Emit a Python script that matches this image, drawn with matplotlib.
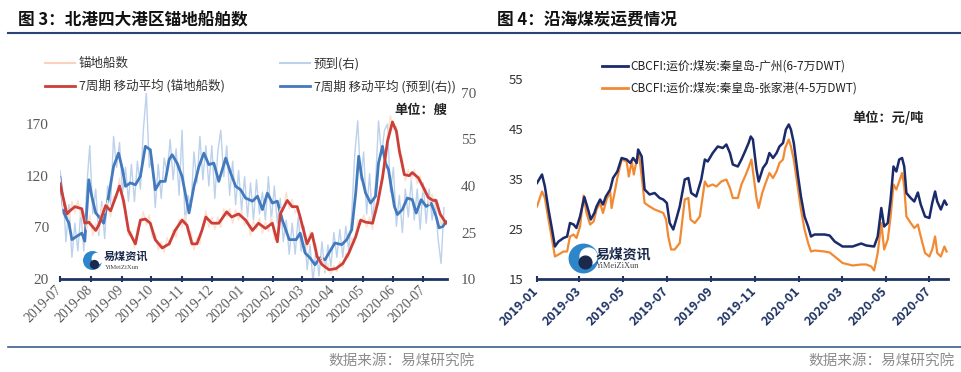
import numpy as np
import pandas as pd
import matplotlib
matplotlib.use('Agg')
import matplotlib.pyplot as plt
import matplotlib.dates as mdates
from matplotlib.lines import Line2D

plt.rcParams['font.family'] = ['Noto Sans CJK SC', 'DejaVu Sans']

# ---------------- 图3 data (2019-07 .. 2020-07) ----------------
# daily series every 3 days
raw_start = '2019-07-01'
anchor_raw = [118, 88, 92, 78, 95, 84, 96, 80, 84, 68,
              82, 62, 74, 66, 90, 84, 96, 80, 100, 98,
              118, 92, 90, 62, 66, 50, 70, 72, 85, 72,
              82, 60, 64, 48, 56, 46, 60, 52, 68, 60,
              78, 70, 82, 64, 66, 48, 60, 54, 73, 86,
              70, 80, 68, 80, 70, 88, 80, 88, 74, 87,
              77, 86, 72, 78, 62, 76, 68, 79, 64, 75,
              66, 80, 58, 64, 88, 86, 104, 88, 97, 84,
              90, 70, 66, 50, 66, 56, 54, 36, 42, 28,
              35, 25, 33, 27, 37, 31, 45, 40, 60, 55,
              77, 72, 82, 70, 80, 68, 93, 92, 118, 125,
              160, 178, 165, 168, 140, 138, 115, 126, 116, 126,
              112, 120, 104, 108, 92, 102, 90, 92, 72, 80]
arrive_raw = [45, 38, 22, 34, 17, 28, 19, 32, 19, 40,
              53, 31, 39, 24, 35, 23, 40, 34, 56, 46,
              54, 38, 46, 35, 47, 35, 48, 39, 58, 70,
              46, 49, 33, 47, 36, 49, 44, 55, 42, 52,
              37, 58, 28, 37, 33, 51, 41, 56, 42, 53,
              40, 53, 36, 51, 58, 43, 53, 37, 48, 34,
              45, 32, 43, 30, 41, 29, 42, 31, 38, 29,
              43, 29, 40, 28, 36, 22, 29, 18, 28, 18,
              30, 19, 27, 13, 21, 9, 20, 11, 22, 12,
              21, 14, 25, 17, 26, 17, 27, 19, 31, 50,
              61, 42, 51, 31, 44, 28, 41, 61, 50, 58,
              60, 38, 46, 27, 37, 25, 39, 30, 42, 29,
              39, 26, 41, 28, 39, 29, 36, 23, 15, 33]

anchor_ma_dates = ['2019-07-01', '2019-07-08', '2019-07-11', '2019-07-16', '2019-07-23', '2019-07-26', '2019-07-30',
                   '2019-08-06', '2019-08-09', '2019-08-16', '2019-08-21', '2019-08-26', '2019-08-30',
                   '2019-09-03', '2019-09-08', '2019-09-15', '2019-09-20', '2019-09-25', '2019-09-30',
                   '2019-10-05', '2019-10-12', '2019-10-19', '2019-10-25',
                   '2019-11-01', '2019-11-06', '2019-11-11', '2019-11-16', '2019-11-21', '2019-11-25',
                   '2019-12-01', '2019-12-08', '2019-12-16', '2019-12-21', '2019-12-28',
                   '2020-01-04', '2020-01-11', '2020-01-17', '2020-01-24', '2020-01-31',
                   '2020-02-05', '2020-02-08', '2020-02-15', '2020-02-20', '2020-02-25', '2020-02-28',
                   '2020-03-06', '2020-03-11', '2020-03-16', '2020-03-21', '2020-03-28',
                   '2020-04-04', '2020-04-11', '2020-04-17', '2020-04-24', '2020-04-29',
                   '2020-05-04', '2020-05-11', '2020-05-16', '2020-05-21', '2020-05-26', '2020-05-31',
                   '2020-06-04', '2020-06-07', '2020-06-12', '2020-06-17', '2020-06-20', '2020-06-26',
                   '2020-07-01', '2020-07-06', '2020-07-11', '2020-07-14', '2020-07-18', '2020-07-24']
anchor_ma = [112, 83, 86, 90, 88, 74, 75,
             67, 72, 91, 86, 99, 110,
             96, 67, 54, 77, 78, 74,
             58, 50, 54, 67,
             77, 72, 54, 54, 67, 80,
             74, 74, 85, 80, 83,
             77, 67, 74, 69, 74,
             56, 83, 96, 90, 90, 80,
             54, 64, 42, 34, 29,
             30, 35, 45, 61, 77,
             75, 74, 93, 118, 153, 172,
             163, 144, 121, 120, 123, 118,
             109, 99, 96, 96, 83, 74]

arrive_ma_dates = ['2019-07-01', '2019-07-05', '2019-07-10', '2019-07-13', '2019-07-18', '2019-07-23', '2019-07-26', '2019-07-30',
                   '2019-08-02', '2019-08-06', '2019-08-09', '2019-08-14', '2019-08-19', '2019-08-24', '2019-08-29',
                   '2019-09-02', '2019-09-05', '2019-09-10', '2019-09-15', '2019-09-20', '2019-09-25', '2019-09-30',
                   '2019-10-05', '2019-10-10', '2019-10-15', '2019-10-19', '2019-10-22', '2019-10-27',
                   '2019-11-01', '2019-11-08', '2019-11-13', '2019-11-18', '2019-11-23', '2019-11-28',
                   '2019-12-03', '2019-12-08', '2019-12-15', '2019-12-20', '2019-12-25', '2019-12-30',
                   '2020-01-04', '2020-01-11', '2020-01-16', '2020-01-21', '2020-01-26', '2020-01-31',
                   '2020-02-05', '2020-02-10', '2020-02-17', '2020-02-24', '2020-02-28',
                   '2020-03-04', '2020-03-09', '2020-03-14', '2020-03-19', '2020-03-24', '2020-03-29',
                   '2020-04-03', '2020-04-10', '2020-04-15', '2020-04-20', '2020-04-24', '2020-04-27', '2020-04-30',
                   '2020-05-04', '2020-05-09', '2020-05-14', '2020-05-17', '2020-05-21', '2020-05-24', '2020-05-27',
                   '2020-06-02', '2020-06-05', '2020-06-10', '2020-06-15', '2020-06-20', '2020-06-24', '2020-06-29',
                   '2020-07-04', '2020-07-09', '2020-07-14', '2020-07-17', '2020-07-21', '2020-07-24']
arrive_ma = [42.6, 31.3, 28, 22.7, 23.8, 24.8, 22.2, 42,
             36.7, 31.3, 30.2, 28, 36.7, 46.3, 50.6,
             45.3, 39.9, 41, 40.4, 43.1, 52.8, 51.7,
             38.8, 41.5, 41.5, 48.5, 50.1, 47.4,
             43.1, 31.3, 39.9, 46.3, 50.6, 46.9,
             47.4, 41.5, 49, 44.2, 39.9, 38.8,
             36.1, 35.1, 36.7, 32.4, 37.7, 34.5,
             35.1, 29.1, 22.7, 22.7, 24.8,
             18.4, 16.8, 14.6, 16.8, 16.2, 18.9,
             21.6, 21.1, 22.7, 25.9, 37.7, 49.6, 43.1,
             37.7, 34.5, 36.7, 47.4, 52.8, 47.4, 45.3,
             33.4, 30.8, 32.4, 36.1, 35.6, 31.3, 35.6,
             33.4, 34.5, 30.2, 26.5, 27, 28.5]

# ---------------- 图4 data (2019-01 .. 2020-07) ----------------
gz_dates = ['2019-01-01', '2019-01-08', '2019-01-12', '2019-01-17', '2019-01-22', '2019-01-26', '2019-01-31',
            '2019-02-07', '2019-02-12', '2019-02-16', '2019-02-21', '2019-02-25',
            '2019-03-02', '2019-03-08', '2019-03-12', '2019-03-17', '2019-03-22', '2019-03-25', '2019-03-30',
            '2019-04-03', '2019-04-07', '2019-04-13', '2019-04-17', '2019-04-23', '2019-04-29',
            '2019-05-06', '2019-05-11', '2019-05-15', '2019-05-20', '2019-05-22', '2019-05-27', '2019-05-31',
            '2019-06-07', '2019-06-14', '2019-06-21', '2019-06-26',
            '2019-07-01', '2019-07-05', '2019-07-10', '2019-07-14', '2019-07-19', '2019-07-26', '2019-07-31',
            '2019-08-04', '2019-08-11', '2019-08-18', '2019-08-23', '2019-08-27',
            '2019-09-03', '2019-09-10', '2019-09-17', '2019-09-22', '2019-09-27',
            '2019-10-01', '2019-10-08', '2019-10-13', '2019-10-18', '2019-10-23', '2019-10-26', '2019-10-29',
            '2019-11-03', '2019-11-06', '2019-11-12', '2019-11-17', '2019-11-21', '2019-11-26',
            '2019-12-01', '2019-12-05', '2019-12-10', '2019-12-14', '2019-12-18', '2019-12-21', '2019-12-25', '2019-12-31',
            '2020-01-04', '2020-01-09', '2020-01-14', '2020-01-18', '2020-01-23',
            '2020-02-06', '2020-02-13', '2020-02-20',
            '2020-03-02', '2020-03-16', '2020-03-28',
            '2020-04-04', '2020-04-15', '2020-04-20', '2020-04-25', '2020-04-29',
            '2020-05-04', '2020-05-08', '2020-05-12', '2020-05-16', '2020-05-20', '2020-05-24', '2020-05-27', '2020-05-30',
            '2020-06-05', '2020-06-10', '2020-06-15', '2020-06-19', '2020-06-25',
            '2020-07-01', '2020-07-05', '2020-07-09', '2020-07-12', '2020-07-17', '2020-07-22', '2020-07-25']
gz_freight = [34.2, 35.9, 33.5, 28.9, 24.9, 21.5, 22.5,
              23.2, 23.5, 26.2, 25.9, 25.2,
              27.5, 31.4, 29.5, 26.9, 28.2, 29.5, 30.9,
              29.9, 31.5, 32.9, 35.2, 36.5, 39.2,
              38.9, 38.2, 39.2, 38.2, 40.9, 39.5, 32.9,
              31.9, 32.2, 31.2, 30.9,
              30.2, 26.2, 24.9, 26.9, 29.5, 34.9, 35.2,
              32.2, 31.5, 34.9, 38.9, 38.5,
              40.2, 41.5, 41.2, 41.9, 40.2,
              37.9, 37.5, 38.9, 40.5, 42.2, 43.5, 42.9,
              36.9, 34.5, 37.2, 38.2, 40.2, 39.2,
              40.2, 41.5, 42.2, 44.9, 45.9, 44.9, 42.2, 35.5,
              31.5, 27.5, 25.5, 23.5, 23.9,
              23.9, 23.7, 22.5,
              21.5, 21.5, 22.1,
              21.7, 21.5, 23.5, 29.2, 25.5,
              26.2, 30.9, 37.5, 36.5, 38.9, 39.2, 37.5, 32.2,
              31.2, 30.5, 32.3, 29.9, 27.5,
              27.2, 30.2, 32.5, 30.5, 28.9, 30.7, 29.9]

zjg_dates = ['2019-01-01', '2019-01-08', '2019-01-12', '2019-01-17', '2019-01-22', '2019-01-26', '2019-01-31',
             '2019-02-07', '2019-02-12', '2019-02-16', '2019-02-21', '2019-02-25',
             '2019-03-02', '2019-03-07', '2019-03-11', '2019-03-16', '2019-03-21', '2019-03-25', '2019-03-30',
             '2019-04-03', '2019-04-08', '2019-04-13', '2019-04-15', '2019-04-20', '2019-04-23', '2019-04-29',
             '2019-05-06', '2019-05-09', '2019-05-13', '2019-05-16', '2019-05-20', '2019-05-23', '2019-05-27', '2019-05-31',
             '2019-06-07', '2019-06-14', '2019-06-21', '2019-06-26', '2019-06-30',
             '2019-07-03', '2019-07-07', '2019-07-12', '2019-07-19', '2019-07-26', '2019-07-31',
             '2019-08-03', '2019-08-09', '2019-08-16', '2019-08-23', '2019-08-27',
             '2019-09-03', '2019-09-08', '2019-09-15', '2019-09-22', '2019-09-27',
             '2019-10-01', '2019-10-08', '2019-10-13', '2019-10-18', '2019-10-22', '2019-10-27', '2019-10-30',
             '2019-11-03', '2019-11-06', '2019-11-11', '2019-11-15', '2019-11-21', '2019-11-26',
             '2019-12-01', '2019-12-05', '2019-12-10', '2019-12-13', '2019-12-18', '2019-12-21', '2019-12-25', '2019-12-31',
             '2020-01-04', '2020-01-09', '2020-01-14', '2020-01-18', '2020-01-23',
             '2020-02-06', '2020-02-13', '2020-02-20',
             '2020-03-02', '2020-03-16', '2020-03-28',
             '2020-04-04', '2020-04-11', '2020-04-15', '2020-04-20', '2020-04-25', '2020-04-29',
             '2020-05-04', '2020-05-08', '2020-05-12', '2020-05-16', '2020-05-20', '2020-05-24', '2020-05-27', '2020-05-30',
             '2020-06-05', '2020-06-10', '2020-06-15', '2020-06-19', '2020-06-25',
             '2020-07-01', '2020-07-05', '2020-07-09', '2020-07-12', '2020-07-17', '2020-07-22', '2020-07-25']
zjg_freight = [29.5, 32.5, 31.2, 26.9, 22.9, 19.5, 19.9,
               20.5, 20.5, 23.5, 23.9, 23.2,
               25.5, 31.7, 28.2, 25.9, 26.5, 28.9, 30.2,
               28.2, 30.9, 32.5, 29.2, 32.9, 35.2, 38.9,
               38.5, 35.5, 38.5, 35.9, 38.9, 40.2, 35.5, 30.2,
               29.5, 28.9, 28.5, 28.2, 26.9,
               23.5, 20.9, 20.9, 22.2, 30.9, 31.2,
               26.9, 26.2, 27.5, 34.5, 33.5,
               33.9, 33.5, 34.5, 34.9, 33.2,
               31.2, 31.2, 33.9, 35.5, 36.9, 38.9, 35.5,
               31.2, 29.2, 32.2, 33.9, 36.2, 35.2,
               36.5, 38.2, 38.9, 41.2, 42.9, 41.5, 38.9, 32.9,
               28.9, 24.9, 22.2, 20.5, 20.7,
               20.5, 20.3, 19.5,
               18.2, 17.7, 17.9,
               17.9, 17.5, 16.7, 20.2, 26.2, 20.9,
               22.9, 27.5, 33.9, 32.9, 34.5, 36.2, 33.5, 27.5,
               26.2, 25.2, 25.9, 23.5, 20.2,
               19.5, 20.9, 23.5, 20.2, 19.5, 21.5, 20.5]

NAVY = '#1f3464'
W, H = 961, 372
fig = plt.figure(figsize=(W / 100, H / 100), dpi=100)


def fx(px):
    return px / W


def fy(py):
    return 1 - py / H


def logo(ax, x, y, s, fs):
    ax.scatter([x], [y], s=s, color='#2c86c9', transform=ax.transAxes, zorder=6, clip_on=False)
    ax.scatter([x + 0.012], [y + 0.01], s=s * 0.35, color='white', transform=ax.transAxes, zorder=7, clip_on=False)
    ax.scatter([x + 0.004], [y - 0.02], s=s * 0.2, color='#1b2a4a', transform=ax.transAxes, zorder=7, clip_on=False)
    ax.text(x + 0.03, y + 0.02, '易煤资讯', transform=ax.transAxes, fontsize=fs, fontweight='bold',
            color='#1b2a4a', va='center', ha='left', zorder=7)
    ax.text(x + 0.032, y - 0.04, 'YiMeiZiXun', transform=ax.transAxes, fontsize=fs * 0.6,
            family='Liberation Serif', color='#444444', va='center', ha='left', zorder=7)


# ---------------- left chart ----------------
ax1 = fig.add_axes([fx(60), fy(279), fx(387), 186 / H])
ax2 = ax1.twinx()
ax1.set_zorder(ax2.get_zorder() + 1)
ax1.patch.set_visible(False)

raw_dates = pd.date_range(raw_start, periods=len(anchor_raw), freq='3D')
ax1.plot(raw_dates, anchor_raw, color='#fde0d0', lw=1.0, zorder=1)
ax2.plot(pd.date_range(raw_start, periods=len(arrive_raw), freq='3D'), arrive_raw, color='#bcd1eb', lw=1.0)
ax1.plot(pd.to_datetime(anchor_ma_dates), anchor_ma, color='#cc3f38', lw=2.0, zorder=3)
ax2.plot(pd.to_datetime(arrive_ma_dates), arrive_ma, color='#4379bd', lw=2.0)

ax1.set_xlim(pd.Timestamp('2019-07-01'), pd.Timestamp('2020-07-25'))
ax1.set_ylim(20, 200)
ax1.set_yticks([20, 70, 120, 170])
ax2.set_ylim(10, 70)
ax2.set_yticks([10, 25, 40, 55, 70])

for a in (ax1, ax2):
    for s in a.spines.values():
        s.set_visible(False)
ax1.spines['bottom'].set_visible(True)
ax1.spines['bottom'].set_color(NAVY)
ax1.spines['bottom'].set_linewidth(2)

ax1.xaxis.set_major_locator(mdates.MonthLocator())
ax1.xaxis.set_major_formatter(mdates.DateFormatter('%Y-%m'))
ax1.tick_params(axis='x', direction='inout', length=5, width=1.5, color=NAVY, pad=4,
                labelsize=10, labelcolor='#595959')
for lab in ax1.get_xticklabels():
    lab.set_rotation(45)
    lab.set_ha('right')
    lab.set_va('center')
    lab.set_rotation_mode('anchor')
    lab.set_family('Liberation Serif')
ax1.tick_params(axis='y', length=0, pad=8, labelsize=11, labelcolor='#595959')
ax2.tick_params(axis='y', length=0, pad=10, labelsize=11, labelcolor='#595959')
for lab in ax1.get_yticklabels() + ax2.get_yticklabels():
    lab.set_family('Liberation Serif')

ax1.text(1.0, 0.91, '单位：艘', transform=ax1.transAxes, ha='right', va='center',
         fontsize=9.5, fontweight='bold', color='#222222')
logo(ax1, 0.083, 0.102, 160, 8)

legend_kw = dict(frameon=False, fontsize=9, handlelength=2.4, handletextpad=0.3,
                 labelspacing=0.75, borderpad=0, borderaxespad=0, loc='upper left')
fig.legend([Line2D([], [], color='#fbd3bd', lw=1.5), Line2D([], [], color='#cc3f38', lw=2)],
           ['锚地船数', '7周期 移动平均 (锚地船数)'],
           bbox_to_anchor=(fx(45), fy(57)), labelcolor='#333333', **legend_kw)
fig.legend([Line2D([], [], color='#bcd1eb', lw=1.5), Line2D([], [], color='#4379bd', lw=2)],
           ['预到(右)', '7周期 移动平均 (预到(右))'],
           bbox_to_anchor=(fx(280), fy(57)), labelcolor='#333333', **legend_kw)

# ---------------- right chart ----------------
ax3 = fig.add_axes([fx(537), fy(279), fx(411), 200 / H])
ax3.plot(pd.to_datetime(gz_dates), gz_freight, color='#1b2a6b', lw=1.8, zorder=3)
ax3.plot(pd.to_datetime(zjg_dates), zjg_freight, color='#f28a33', lw=1.6, zorder=2)
ax3.set_xlim(pd.Timestamp('2019-01-01'), pd.Timestamp('2020-07-27'))
ax3.set_ylim(15, 55)
ax3.set_yticks([15, 25, 35, 45, 55])
for s in ax3.spines.values():
    s.set_visible(False)
ax3.spines['bottom'].set_visible(True)
ax3.spines['bottom'].set_color(NAVY)
ax3.spines['bottom'].set_linewidth(2)
ax3.xaxis.set_major_locator(mdates.MonthLocator(bymonth=[1, 3, 5, 7, 9, 11]))
ax3.xaxis.set_major_formatter(mdates.DateFormatter('%Y-%m'))
ax3.tick_params(axis='x', direction='inout', length=5, width=1.5, color=NAVY, pad=5,
                labelsize=9, labelcolor=NAVY)
for lab in ax3.get_xticklabels():
    lab.set_rotation(45)
    lab.set_ha('right')
    lab.set_va('center')
    lab.set_rotation_mode('anchor')
    lab.set_fontweight('bold')
ax3.tick_params(axis='y', length=0, pad=10, labelsize=9.5, labelcolor='#333333')

ax3.text(0.94, 0.805, '单位：元/吨', transform=ax3.transAxes, ha='right', va='center',
         fontsize=9.5, fontweight='bold', color='#222222')
logo(ax3, 0.112, 0.105, 420, 10)

fig.legend([Line2D([], [], color='#1b2a6b', lw=2), Line2D([], [], color='#f28a33', lw=2)],
           ['CBCFI:运价:煤炭:秦皇岛-广州(6-7万DWT)', 'CBCFI:运价:煤炭:秦皇岛-张家港(4-5万DWT)'],
           bbox_to_anchor=(fx(602), fy(60)), frameon=False, fontsize=8.5, handlelength=2.2,
           handletextpad=0.2, labelspacing=0.75, borderpad=0, borderaxespad=0,
           loc='upper left', labelcolor='#222222')

# ---------------- titles, rules, sources ----------------
fig.text(fx(18), fy(20), '图 3：北港四大港区锚地船舶数', fontsize=12, fontweight='bold',
         va='center', ha='left', color='#111111')
fig.text(fx(497), fy(20), '图 4：沿海煤炭运费情况', fontsize=12, fontweight='bold',
         va='center', ha='left', color='#111111')
fig.add_artist(Line2D([fx(8), 1.0], [fy(33), fy(33)], color='#2b4478', lw=1.5))
fig.add_artist(Line2D([fx(8), 1.0], [fy(347), fy(347)], color='#3d5c90', lw=1.2))
fig.text(fx(475), fy(361), '数据来源：易煤研究院', fontsize=10.5, color='#8c8c8c',
         va='center', ha='right')
fig.text(fx(955), fy(361), '数据来源：易煤研究院', fontsize=10.5, color='#8c8c8c',
         va='center', ha='right')

fig.savefig('out.png', dpi=100)
